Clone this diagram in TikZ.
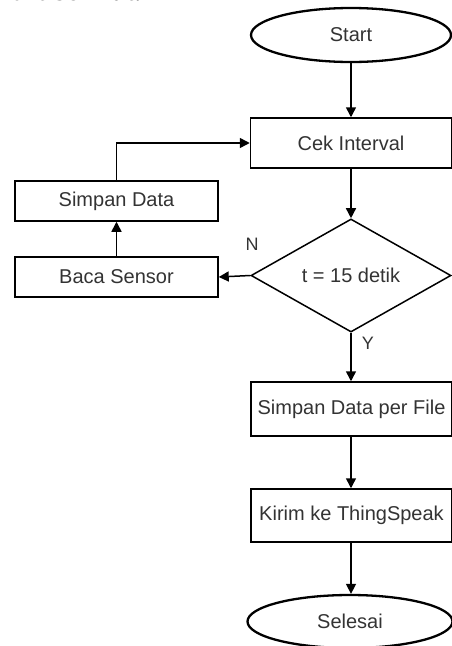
\documentclass[tikz,border=0pt]{standalone}
\usepackage{fontspec}
\setmainfont{Liberation Sans}
\newfontfamily\headserif{Liberation Serif}
\usetikzlibrary{shapes.geometric,arrows.meta}
\definecolor{txt}{HTML}{333333}
\begin{document}
\begin{tikzpicture}[x=1pt,y=-1pt,
  every node/.style={font=\fontsize{20}{24}\selectfont, text=txt, inner sep=0pt},
  procbox/.style={draw=black, line width=1.5pt, rectangle, minimum width=201pt},
  termbox/.style={draw=black, line width=2.3pt, ellipse},
  decbox/.style={draw=black, line width=1.5pt, diamond, minimum width=200pt, minimum height=105pt},
  flow/.style={draw=black, line width=1.5pt, -{Triangle[length=10pt,width=10pt]}},
  lbl/.style={font=\fontsize{18}{22}\selectfont}]
\useasboundingbox (0,0) rectangle (452,646);
\node[anchor=base west, font=\headserif\bfseries\fontsize{26}{30}\selectfont, text=black] (hdr) at (-2,0) {hart berikut.};
\node[termbox, minimum width=200pt, minimum height=54pt] (start) at (351,35) {Start};
\node[procbox, minimum height=50pt] (cek) at (351,143) {Cek Interval};
\node[decbox] (dec) at (351,275.5) {t = 15 detik};
\node[procbox, minimum width=203pt, minimum height=40pt] (sd) at (116.5,201) {Simpan Data};
\node[procbox, minimum width=203pt, minimum height=40pt] (bs) at (116.5,277) {Baca Sensor};
\node[procbox, minimum height=54pt] (sdf) at (351.5,409) {Simpan Data per File};
\node[procbox, minimum height=53pt] (kirim) at (351.5,515.5) {Kirim ke ThingSpeak};
\node[termbox, minimum width=205pt, minimum height=53pt] (end) at (350,621.5) {Selesai};
\node[lbl] (nlab) at (252,244) {N};
\node[lbl] (ylab) at (368,343) {Y};
\draw[flow] (start) -- (cek);
\draw[flow] (cek) -- (dec);
\draw[flow] (dec.west) -- (bs.east);
\draw[flow] (bs) -- (sd);
\draw[flow] (sd.north) |- (cek.west);
\draw[flow] (dec.south) -- (sdf.north -| dec.south);
\draw[flow] (sdf.south -| dec.south) -- (kirim.north -| dec.south);
\draw[flow] (kirim.south -| dec.south) -- (end.north -| dec.south);
\end{tikzpicture}
\end{document}
